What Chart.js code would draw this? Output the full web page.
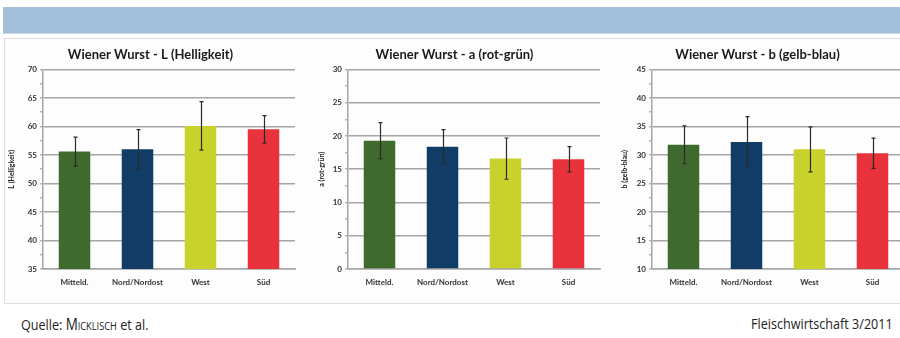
<!DOCTYPE html>
<html lang="de">
<head>
<meta charset="utf-8">
<title>Wiener Wurst – Farbmessung</title>
<script src="https://cdn.jsdelivr.net/npm/chart.js@4/dist/chart.umd.min.js"></script>
<style>
  html, body { margin: 0; padding: 0; background: #ffffff; }
  body { width: 900px; height: 338px; position: relative; overflow: hidden; }
  .band { position: absolute; left: 3px; top: 7px; width: 900px; height: 26px; background: #a2bfdb; border-bottom: 1px solid #c9d9ea; }
  .frame { position: absolute; left: 4px; top: 38px; width: 900px; height: 264px; border: 1px solid #dedede; background: #fdfdfd; }
  .panel { position: absolute; top: 40px; height: 260px; }
  .footer { position: absolute; top: 313px; font-family: "Open Sans", sans-serif; font-size: 15px; color: #222; white-space: nowrap; }
  .footer.left { left: 21px; transform: scaleX(0.84); transform-origin: left center; }
  .footer.right { right: 7px; transform: scaleX(0.84); transform-origin: right center; }
  .sc { font-variant: small-caps; font-size: 16px; }
</style>
</head>
<body>
<div class="band"></div>
<div class="frame"></div>
<div class="panel" style="left:6px;width:300px"><canvas id="chartL" width="300" height="260"></canvas></div>
<div class="panel" style="left:309px;width:300px"><canvas id="chartA" width="300" height="260"></canvas></div>
<div class="panel" style="left:611px;width:300px"><canvas id="chartB" width="300" height="260"></canvas></div>
<div class="footer left">Quelle: <span class="sc">Micklisch</span> et al.</div>
<div class="footer right">Fleischwirtschaft 3/2011</div>

<script>
// Regionen
const regions = ['Mitteld.', 'Nord/Nordost', 'West', 'Süd'];
const regionColors = ['#3e6a2e', '#113c66', '#c8d22a', '#e8323c'];

// L* (Helligkeit): Mittelwert und Standardabweichung
const lightness = [55.6, 56.0, 60.1, 59.5];
const lightnessSd = [2.55, 3.45, 4.25, 2.4];

// a* (rot-grün)
const redGreen = [19.3, 18.4, 16.6, 16.5];
const redGreenSd = [2.7, 2.55, 3.1, 1.9];

// b* (gelb-blau)
const yellowBlue = [31.8, 32.3, 31.0, 30.3];
const yellowBlueSd = [3.3, 4.45, 3.95, 2.65];

// Achsenbereiche
const lightnessRange = [35, 70];
const redGreenRange = [0, 30];
const yellowBlueRange = [10, 45];

const FONT = 'Lato, "Open Sans", sans-serif';
const GRID = '#a6a6a6';

// Fehlerbalken (± Standardabweichung) über die y-Skala
const errorBars = {
  id: 'errorBars',
  afterDatasetsDraw(chart, args, opts) {
    const ctx = chart.ctx;
    const meta = chart.getDatasetMeta(0);
    const y = chart.scales.y;
    const values = chart.data.datasets[0].data;
    const sd = opts.sd || [];
    ctx.save();
    ctx.strokeStyle = '#2a2a2a';
    ctx.lineWidth = 1.2;
    meta.data.forEach((bar, i) => {
      const x = Math.round(bar.x) + 0.5;
      const top = y.getPixelForValue(values[i] + sd[i]);
      const bot = y.getPixelForValue(values[i] - sd[i]);
      ctx.beginPath();
      ctx.moveTo(x, top); ctx.lineTo(x, bot);
      ctx.moveTo(x - 2, top); ctx.lineTo(x + 2, top);
      ctx.moveTo(x - 2, bot); ctx.lineTo(x + 2, bot);
      ctx.stroke();
    });
    ctx.restore();
  }
};

function makeChart(id, title, axisTitle, values, sd, range, axisWidth, titlePad, padRight) {
  return new Chart(document.getElementById(id), {
    type: 'bar',
    data: {
      labels: regions,
      datasets: [{
        data: values,
        backgroundColor: regionColors,
        borderWidth: 0,
        categoryPercentage: 0.5,
        barPercentage: 1.0
      }]
    },
    options: {
      responsive: false,
      animation: false,
      layout: { padding: { left: 0, right: padRight, top: 0, bottom: 0 } },
      plugins: {
        legend: { display: false },
        tooltip: { enabled: false },
        title: {
          display: true,
          text: title,
          color: '#1a1a1a',
          font: { family: FONT, size: 13, weight: 'bold' },
          padding: { top: 7.5, bottom: 6.4 }
        },
        errorBars: { sd: sd }
      },
      scales: {
        x: {
          grid: { display: false, drawTicks: false },
          border: { color: GRID, width: 1.5 },
          ticks: { color: '#333', padding: 9, font: { family: FONT, size: 8, weight: 'bold' } },
          afterFit(scale) { scale.height = 31; }
        },
        y: {
          min: range[0],
          max: range[1],
          border: { color: GRID, width: 1.5 },
          grid: {
            color: c => (c.tick && c.tick.value % 5 === 0) ? GRID : 'rgba(0,0,0,0)',
            lineWidth: 1.6,
            tickLength: 3,
            tickColor: '#b5b5b5'
          },
          ticks: {
            stepSize: 2.5,
            padding: 3,
            color: '#333',
            font: { family: FONT, size: 8, weight: 'bold' },
            callback: v => (v % 5 === 0 ? v : '')
          },
          title: {
            display: true,
            text: axisTitle,
            color: '#222',
            font: { family: FONT, size: 7, weight: 'bold' },
            padding: { top: titlePad, bottom: 0 }
          },
          afterFit(scale) { scale.width = axisWidth; }
        }
      }
    },
    plugins: [errorBars]
  });
}

makeChart('chartL', 'Wiener Wurst - L (Helligkeit)', 'L (Helligkeit)', lightness, lightnessSd, lightnessRange, 37, 1.8, 11);
makeChart('chartA', 'Wiener Wurst - a (rot-grün)', 'a (rot-grün)', redGreen, redGreenSd, redGreenRange, 39, 8.8, 9);
makeChart('chartB', 'Wiener Wurst - b (gelb-blau)', 'b (gelb-blau)', yellowBlue, yellowBlueSd, yellowBlueRange, 41, 9.8, 7);
</script>
</body>
</html>
